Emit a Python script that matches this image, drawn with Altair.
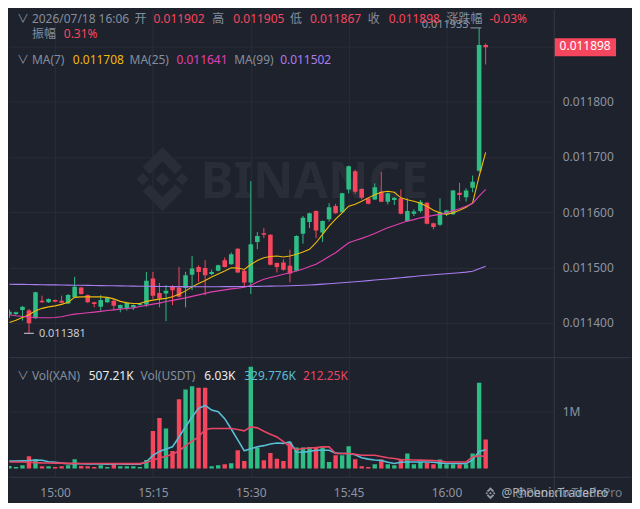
import altair as alt
import pandas as pd

# ---------------- data ----------------
# minute offset of each 1-minute candle relative to 15:00 (14:53 ... 16:06)
MINUTES = list(range(-7, 67))
PRICE_UNIT = 1e-6  # prices below are in millionths

OPEN = [11415, 11416, 11423, 11422, 11408, 11440, 11437, 11441, 11440, 11435,
        11446, 11464, 11450, 11437, 11429, 11437, 11440, 11426, 11426, 11428,
        11432, 11433, 11480, 11454, 11453, 11465, 11464, 11463, 11487, 11501,
        11499, 11488, 11494, 11513, 11506, 11534, 11494, 11473, 11546, 11562,
        11559, 11508, 11509, 11503, 11494, 11561, 11582, 11602, 11563, 11587,
        11611, 11600, 11641, 11674, 11642, 11625, 11623, 11637, 11619, 11622,
        11625, 11584, 11597, 11602, 11617, 11580, 11577, 11596, 11596, 11635,
        11627, 11644, 11675, 11902]
HIGH = [11424, 11420, 11430, 11425, 11456, 11449, 11444, 11442, 11449, 11452,
        11483, 11465, 11451, 11438, 11450, 11446, 11443, 11433, 11438, 11433,
        11436, 11492, 11492, 11472, 11468, 11468, 11501, 11492, 11521, 11504,
        11513, 11496, 11505, 11518, 11527, 11535, 11496, 11656, 11564, 11571,
        11560, 11509, 11515, 11532, 11558, 11593, 11599, 11603, 11585, 11616,
        11615, 11635, 11684, 11677, 11643, 11626, 11652, 11673, 11635, 11627,
        11641, 11625, 11605, 11622, 11618, 11581, 11625, 11604, 11640, 11653,
        11643, 11666, 11933, 11905]
LOW = [11409, 11414, 11404, 11381, 11407, 11436, 11436, 11437, 11435, 11434,
       11445, 11451, 11436, 11428, 11422, 11436, 11423, 11419, 11422, 11423,
       11431, 11429, 11443, 11428, 11403, 11432, 11446, 11428, 11459, 11474,
       11450, 11486, 11493, 11500, 11505, 11490, 11465, 11452, 11533, 11553,
       11504, 11491, 11494, 11473, 11493, 11543, 11571, 11553, 11546, 11583,
       11597, 11599, 11634, 11633, 11623, 11614, 11622, 11618, 11614, 11613,
       11596, 11583, 11593, 11599, 11578, 11569, 11575, 11593, 11595, 11621,
       11619, 11636, 11673, 11867]
CLOSE = [11420, 11419, 11429, 11399, 11455, 11437, 11443, 11438, 11436, 11450,
         11465, 11452, 11437, 11434, 11441, 11445, 11431, 11432, 11436, 11432,
         11435, 11476, 11449, 11444, 11458, 11459, 11447, 11486, 11498, 11492,
         11486, 11492, 11504, 11501, 11524, 11491, 11473, 11542, 11557, 11559,
         11505, 11501, 11496, 11489, 11557, 11590, 11598, 11567, 11584, 11609,
         11598, 11634, 11683, 11637, 11626, 11615, 11645, 11619, 11634, 11626,
         11597, 11602, 11601, 11619, 11579, 11573, 11600, 11603, 11639, 11631,
         11639, 11655, 11902, 11898]

MA7 = [11400.5, 11404.5, 11409.5, 11414.4, 11421.6, 11426.1, 11428.8, 11430.6, 11433.3, 11436.9,
       11445.9, 11446.9, 11446.9, 11446.9, 11446.9, 11445.9, 11443.2, 11438.7, 11436.0, 11434.8,
       11434.8, 11438.7, 11440.9, 11442.7, 11444.1, 11446.9, 11451.7, 11457.7, 11464.9, 11471.2,
       11476.6, 11482.9, 11488.3, 11493.7, 11499.6, 11499.1, 11496.4, 11505.4, 11512.6, 11517.7,
       11519.8, 11520.7, 11518.9, 11520.7, 11523.8, 11527.9, 11532.8, 11544.7, 11559.8, 11574.8,
       11587.4, 11598.7, 11610.8, 11614.4, 11619.8, 11625.8, 11631.5, 11636.0, 11637.8, 11636.0,
       11625.8, 11622.5, 11619.8, 11616.2, 11610.8, 11603.6, 11598.7, 11595.9, 11599.1, 11603.6,
       11609.0, 11616.8, 11664.9, 11708.0]
MA25 = [11414.4, 11412.6, 11411.4, 11410.3, 11409.5, 11409.0, 11409.0, 11409.5, 11410.8, 11413.5,
        11415.7, 11416.8, 11418.0, 11419.3, 11420.7, 11422.2, 11423.4, 11424.7, 11425.8, 11427.0,
        11429.4, 11431.5, 11433.7, 11435.5, 11438.4, 11440.5, 11442.7, 11445.0, 11447.7, 11450.4,
        11453.2, 11455.9, 11457.7, 11459.5, 11461.3, 11462.5, 11464.3, 11467.6, 11473.9, 11478.7,
        11482.0, 11484.7, 11487.7, 11490.6, 11493.7, 11497.3, 11501.8, 11505.8, 11512.6, 11519.8,
        11526.7, 11535.7, 11544.7, 11548.6, 11552.6, 11556.8, 11561.6, 11566.7, 11571.7, 11576.0,
        11579.8, 11583.8, 11586.5, 11589.7, 11591.9, 11594.1, 11595.9, 11598.7, 11602.7, 11606.3,
        11610.8, 11615.7, 11628.8, 11641.0]
MA99 = [11469.7, 11469.5, 11469.4, 11469.2, 11469.0, 11468.8, 11468.6, 11468.5, 11468.3, 11468.1,
        11467.9, 11467.8, 11467.6, 11467.4, 11467.2, 11467.0, 11466.9, 11466.7, 11466.5, 11466.3,
        11466.1, 11466.0, 11465.8, 11465.6, 11465.5, 11465.4, 11465.4, 11465.3, 11465.3, 11465.2,
        11465.2, 11465.2, 11465.2, 11465.3, 11465.3, 11465.4, 11465.5, 11465.6, 11465.8, 11466.0,
        11466.2, 11466.4, 11466.6, 11466.9, 11467.3, 11467.8, 11468.4, 11469.0, 11469.8, 11470.6,
        11471.5, 11472.4, 11473.3, 11474.2, 11475.2, 11476.2, 11477.2, 11478.2, 11479.2, 11480.2,
        11481.4, 11482.6, 11483.8, 11484.9, 11486.0, 11486.9, 11487.8, 11488.7, 11489.6, 11490.5,
        11491.6, 11493.2, 11497.5, 11502.0]

VOLUME_K = [45, 28, 58, 215, 162, 40, 40, 30, 40, 58,
            162, 45, 40, 30, 58, 30, 99, 40, 40, 40,
            30, 151, 656, 883, 698, 308, 1209, 1378, 1436, 1407,
            1407, 40, 58, 75, 93, 320, 133, 1773, 366, 145,
            273, 174, 133, 459, 366, 366, 378, 366, 366, 116,
            233, 233, 390, 163, 41, 30, 75, 157, 75, 58,
            157, 262, 75, 116, 99, 75, 157, 75, 75, 75,
            75, 262, 1494, 507.21]
VOL_MA_A_K = [130, 130, 135, 140, 150, 145, 120, 110, 95, 85,
              90, 85, 80, 80, 80, 75, 80, 80, 78, 75,
              75, 120, 230, 300, 340, 380, 550, 730, 900, 1050,
              1100, 1020, 990, 870, 690, 500, 310, 345, 380, 400,
              430, 445, 440, 465, 290, 285, 300, 320, 320, 320,
              270, 262, 262, 240, 190, 165, 150, 140, 110, 90,
              110, 115, 115, 115, 115, 110, 100, 90, 88, 88,
              87, 150, 300, 329.776]
VOL_MA_B_K = [116, 116, 116, 110, 105, 100, 98, 95, 95, 92,
              92, 90, 90, 90, 90, 88, 88, 87, 87, 87,
              87, 110, 145, 185, 215, 250, 307, 400, 480, 552,
              680, 698, 698, 698, 698, 680, 657, 727, 710, 650,
              600, 552, 470, 380, 330, 349, 360, 366, 378, 378,
              262, 262, 262, 250, 233, 233, 233, 210, 190, 175,
              157, 155, 150, 148, 145, 140, 130, 116, 116, 116,
              116, 203, 225, 212.25]

TICK_MIN = [0, 15, 30, 45, 60]
TICK_LABELS = ["15:00", "15:15", "15:30", "15:45", "16:00"]
PRICE_TICKS = [0.0114, 0.0115, 0.0116, 0.0117, 0.0118, 0.0119]
VOL_TICKS = [1000000]

LAST_PRICE = 0.011898
HIGH_MARK = 0.011933
LOW_MARK = 0.011381

# ---------------- styles ----------------
FONT = "Noto Sans, Noto Sans CJK SC"
BG = "#1E222D"
GRID = "#292D38"
SEP = "#333844"
TXT = "#848E9C"
AX = "#8E95A0"
UP = "#2EBD85"
DOWN = "#F6465D"
C7 = "#F0B90B"
C25 = "#E040B0"
C99 = "#A97DF0"
CY = "#58BED6"
PK = "#E84664"
WM = "#282D38"
WHITE = "#EAECEF"

W, H_MAIN, H_VOL = 547, 349, 120

df = pd.DataFrame({
    "m": MINUTES,
    "open": [v * PRICE_UNIT for v in OPEN],
    "high": [v * PRICE_UNIT for v in HIGH],
    "low": [v * PRICE_UNIT for v in LOW],
    "close": [v * PRICE_UNIT for v in CLOSE],
    "ma7": [v * PRICE_UNIT for v in MA7],
    "ma25": [v * PRICE_UNIT for v in MA25],
    "ma99": [v * PRICE_UNIT for v in MA99],
    "vol": [v * 1000 for v in VOLUME_K],
    "vma_a": [v * 1000 for v in VOL_MA_A_K],
    "vma_b": [v * 1000 for v in VOL_MA_B_K],
})
df["dir"] = ["up" if c >= o else "down" for o, c in zip(OPEN, CLOSE)]

ONE = pd.DataFrame({"k": [0]})

XS = alt.Scale(domain=[-6.3, 75.75], nice=False, zero=False)
PS = alt.Scale(domain=[0.01133694, 0.01196577], nice=False, zero=False)
VS = alt.Scale(domain=[-151000, 1932000], nice=False, zero=False)

dir_color = alt.Color("dir:N", scale=alt.Scale(domain=["up", "down"], range=[UP, DOWN]), legend=None)

label_expr = ("[" + ",".join("'%s'" % t for t in TICK_LABELS) + "][indexof(["
              + ",".join(str(v) for v in TICK_MIN) + "], datum.value)]")

main_x_axis = alt.Axis(values=TICK_MIN, labels=False, ticks=False, domain=False,
                       grid=True, gridColor=GRID, title=None)
main_y_axis = alt.Axis(orient="right", values=PRICE_TICKS,
                       labelExpr="datum.value > 0.01185 ? '' : format(datum.value, '.6f')",
                       ticks=False, tickSize=0, domain=False, grid=True, gridColor=GRID,
                       labelPadding=8, labelColor=AX, labelFont=FONT, labelFontSize=12, title=None)
vol_x_axis = alt.Axis(values=TICK_MIN, labelExpr=label_expr, ticks=False, tickSize=0,
                      domain=False, grid=True, gridColor=GRID, labelPadding=10,
                      labelColor=AX, labelFont=FONT, labelFontSize=12, title=None)
vol_y_axis = alt.Axis(orient="right", values=VOL_TICKS, format="~s", ticks=False, tickSize=0,
                      domain=False, grid=True, gridColor=GRID, labelPadding=8,
                      labelColor=AX, labelFont=FONT, labelFontSize=12, title=None)


def mx():
    return alt.X("m:Q", scale=XS, axis=main_x_axis)


def py(field):
    return alt.Y(field + ":Q", scale=PS, axis=main_y_axis)


base = alt.Chart(df)

LOGO = ("M0,-1L0.62,-0.38L0.4,-0.16L0,-0.56L-0.4,-0.16L-0.62,-0.38Z"
        "M0,1L0.62,0.38L0.4,0.16L0,0.56L-0.4,0.16L-0.62,0.38Z"
        "M0,-0.22L0.22,0L0,0.22L-0.22,0Z"
        "M-0.62,-0.2L-0.42,0L-0.62,0.2L-0.82,0Z"
        "M0.62,-0.2L0.82,0L0.62,0.2L0.42,0Z")

wm_logo = alt.Chart(ONE).mark_point(shape=LOGO, size=4096, filled=True, color=WM, opacity=1,
                                    strokeWidth=0).encode(x=alt.value(154), y=alt.value(170))
wm_text = alt.Chart(ONE).mark_text(font=FONT, fontSize=50, fontWeight="bold", align="left",
                                   baseline="alphabetic", color=WM).encode(
    x=alt.value(192), y=alt.value(189), text=alt.value("BINANCE"))

wick = base.mark_rule(strokeWidth=1, clip=True).encode(x=mx(), y=py("low"), y2="high:Q", color=dir_color)
body = base.mark_bar(size=4.6, clip=True).encode(x=mx(), y=py("open"), y2="close:Q", color=dir_color)
l7 = base.mark_line(strokeWidth=1.1, clip=True, color=C7).encode(x=mx(), y=py("ma7"))
l25 = base.mark_line(strokeWidth=1.1, clip=True, color=C25).encode(x=mx(), y=py("ma25"))
l99 = base.mark_line(strokeWidth=1.1, clip=True, color=C99).encode(x=mx(), y=py("ma99"))

marks_df = pd.DataFrame({"p": [LOW_MARK], "t": ["%.6f" % LOW_MARK]})
hi_df = pd.DataFrame({"p": [HIGH_MARK], "t": ["%.6f" % HIGH_MARK]})
tag_df = pd.DataFrame({"p": [LAST_PRICE], "t": ["%.6f" % LAST_PRICE]})

low_rule = alt.Chart(marks_df).mark_rule(color="#C8CCD3", strokeWidth=1).encode(
    y=py("p"), x=alt.value(15), x2=alt.value(25))
low_txt = alt.Chart(marks_df).mark_text(align="left", baseline="middle", font=FONT, fontSize=11,
                                        color="#C8CCD3", dy=1).encode(y=py("p"), x=alt.value(30), text="t:N")
hi_rule = alt.Chart(hi_df).mark_rule(color="#9097A1", strokeWidth=1).encode(
    y=py("p"), x=alt.value(463), x2=alt.value(474))
hi_txt = alt.Chart(hi_df).mark_text(align="right", baseline="middle", font=FONT, fontSize=11,
                                    color="#9097A1", dy=-3).encode(y=py("p"), x=alt.value(461), text="t:N")
tag = alt.Chart(tag_df).mark_rule(color=DOWN, strokeWidth=18, strokeCap="butt").encode(
    y=py("p"), x=alt.value(547), x2=alt.value(609))
tag_txt = alt.Chart(tag_df).mark_text(align="center", baseline="middle", font=FONT, fontSize=12,
                                      color="#FFFFFF", dy=-1).encode(y=py("p"), x=alt.value(578), text="t:N")

HEAD_TEXT = ["∨", "2026/07/18 16:06", "开", "0.011902", "高", "0.011905", "低", "0.011867",
             "收", "0.011898", "涨跌幅", "-0.03%", "振幅", "0.31%",
             "∨", "MA(7)", "0.011708", "MA(25)", "0.011641", "MA(99)", "0.011502"]
HEAD_X = [8, 23, 126, 145, 204, 225, 282, 302, 360, 381, 439, 482, 23, 55,
          8, 23, 64, 121, 168, 226, 272]
HEAD_Y = [9] * 12 + [24, 24] + [50] * 7
HEAD_C = [TXT, TXT, TXT, DOWN, TXT, DOWN, TXT, DOWN, TXT, DOWN, TXT, DOWN, TXT, DOWN,
          TXT, TXT, C7, TXT, C25, TXT, C99]
head_df = pd.DataFrame({"t": HEAD_TEXT, "px": HEAD_X, "py": HEAD_Y, "c": HEAD_C})
header = alt.Chart(head_df).mark_text(align="left", baseline="middle", font=FONT, fontSize=12).encode(
    x=alt.X("px:Q", scale=None), y=alt.Y("py:Q", scale=None), text="t:N", color=alt.Color("c:N", scale=None))

sep_main_h = alt.Chart(ONE).mark_rule(color=SEP, strokeWidth=1).encode(
    x=alt.value(0), x2=alt.value(624), y=alt.value(349))
sep_main_v = alt.Chart(ONE).mark_rule(color=SEP, strokeWidth=1).encode(
    x=alt.value(547), y=alt.value(0), y2=alt.value(349))

main = alt.layer(wm_logo, wm_text, wick, body, l7, l25, l99, low_rule, low_txt, hi_rule, hi_txt,
                 tag, tag_txt, header, sep_main_h, sep_main_v).properties(width=W, height=H_MAIN)

# ---------------- volume panel ----------------
vbar = base.mark_bar(size=4.4, clip=True).encode(
    x=alt.X("m:Q", scale=XS, axis=vol_x_axis),
    y=alt.Y("vol:Q", scale=VS, axis=vol_y_axis), y2=alt.datum(0), color=dir_color)
vma_a = base.mark_line(strokeWidth=1.6, clip=True, color=CY).encode(
    x=alt.X("m:Q", scale=XS, axis=vol_x_axis), y=alt.Y("vma_a:Q", scale=VS, axis=vol_y_axis))
vma_b = base.mark_line(strokeWidth=1.6, clip=True, color=PK).encode(
    x=alt.X("m:Q", scale=XS, axis=vol_x_axis), y=alt.Y("vma_b:Q", scale=VS, axis=vol_y_axis))

VH_TEXT = ["∨", "Vol(XAN)", "507.21K", "Vol(USDT)", "6.03K", "329.776K", "212.25K"]
VH_X = [8, 23, 80, 132, 196, 236, 295]
VH_C = [TXT, TXT, WHITE, TXT, WHITE, CY, PK]
vh_df = pd.DataFrame({"t": VH_TEXT, "px": VH_X, "py": [18] * len(VH_TEXT), "c": VH_C})
vheader = alt.Chart(vh_df).mark_text(align="left", baseline="middle", font=FONT, fontSize=12).encode(
    x=alt.X("px:Q", scale=None), y=alt.Y("py:Q", scale=None), text="t:N", color=alt.Color("c:N", scale=None))

wm2_logo = alt.Chart(ONE).mark_point(shape=LOGO, size=144, filled=True, color="#C5C9D0",
                                     strokeWidth=0).encode(x=alt.value(483), y=alt.value(136))
wm2_a = alt.Chart(ONE).mark_text(align="left", baseline="middle", font=FONT, fontSize=12,
                                 color="#C5C9D0", opacity=0.85).encode(
    x=alt.value(494), y=alt.value(136), text=alt.value("@PhoenixTradePro"))
wm2_b = alt.Chart(ONE).mark_text(align="left", baseline="middle", font=FONT, fontSize=12,
                                 color="#C5C9D0", opacity=0.55).encode(
    x=alt.value(508), y=alt.value(136), text=alt.value("@PhoenixTradePro"))

sep_vol_h = alt.Chart(ONE).mark_rule(color=SEP, strokeWidth=1).encode(
    x=alt.value(0), x2=alt.value(624), y=alt.value(120))
sep_vol_v = alt.Chart(ONE).mark_rule(color=SEP, strokeWidth=1).encode(
    x=alt.value(547), y=alt.value(0), y2=alt.value(144))

vol = alt.layer(vbar, vma_a, vma_b, vheader, wm2_logo, wm2_a, wm2_b, sep_vol_h, sep_vol_v).properties(
    width=W, height=H_VOL)

chart = alt.vconcat(main, vol, spacing=0, bounds="flush").properties(
    padding=0, background=BG).configure(font=FONT).configure_view(stroke=None)

chart.save("out.html", embed_options={"renderer": "svg", "actions": False})
